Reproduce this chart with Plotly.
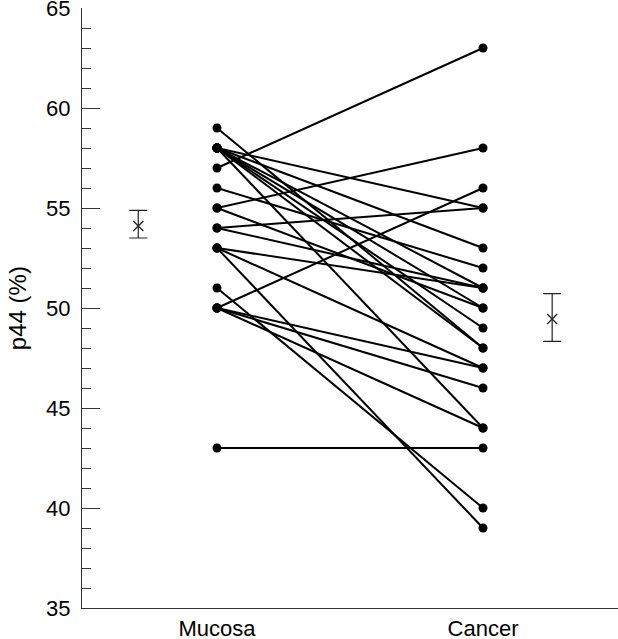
import plotly.graph_objects as go

# ---- data ----
groups = ["Mucosa", "Cancer"]
mucosa = [59, 58, 58, 58, 58, 58, 58, 58, 57, 56, 55, 55, 54, 54, 53, 53, 53, 51, 50, 50, 50, 50, 43]
cancer = [48, 55, 53, 51, 50, 49, 48, 44, 63, 52, 58, 50, 55, 51, 51, 47, 39, 40, 56, 47, 46, 44, 43]
means = [54.1, 49.45]
err_plus = [0.78, 1.27]
err_minus = [0.6, 1.12]
y_ticks = [35, 40, 45, 50, 55, 60, 65]

# ---- layout constants ----
X_POS = {"Mucosa": 1.0, "Cancer": 2.0}
MEAN_X = [0.704, 2.26]
FONT = "Liberation Sans, Arial, Helvetica, sans-serif"

xs, ys = [], []
for m, c in zip(mucosa, cancer):
    xs += [X_POS["Mucosa"], X_POS["Cancer"], None]
    ys += [m, c, None]

fig = go.Figure()
fig.add_trace(go.Scatter(
    x=xs, y=ys, mode="lines+markers",
    line=dict(color="black", width=2),
    marker=dict(color="black", size=9, symbol="circle"),
    hoverinfo="skip", showlegend=False,
))
fig.add_trace(go.Scatter(
    x=MEAN_X, y=means, mode="markers",
    marker=dict(symbol="x-thin", size=10, color="black",
                line=dict(color="#222", width=1.3)),
    error_y=dict(type="data", symmetric=False, array=err_plus,
                 arrayminus=err_minus, color="#222", thickness=1.2, width=9),
    showlegend=False,
))

fig.update_layout(
    width=618, height=639,
    margin=dict(l=82, r=0, t=8, b=31, autoexpand=False),
    paper_bgcolor="white", plot_bgcolor="white",
    font=dict(family=FONT, size=22, color="black"),
    annotations=[dict(
        text="p44 (%)", textangle=-90, showarrow=False,
        xref="paper", yref="paper", x=-0.121, y=0.5,
        xanchor="center", yanchor="middle",
        font=dict(family=FONT, size=24, color="black"),
    )],
)
fig.update_xaxes(
    range=[0.4925, 2.5075], automargin=False,
    tickmode="array", tickvals=[X_POS[g] for g in groups], ticktext=groups,
    ticks="", showgrid=False, zeroline=False,
    showline=True, linecolor="#333", linewidth=1,
    tickfont=dict(family=FONT, size=22),
    ticklabelstandoff=1,
    ticklabeloverflow="allow",
)
fig.update_yaxes(
    range=[35, 65], automargin=False,
    tickmode="array", tickvals=y_ticks, ticktext=[str(v) for v in y_ticks],
    ticks="inside", ticklen=18, tickwidth=1, tickcolor="#333",
    minor=dict(ticks="inside", ticklen=9, dtick=1, tickwidth=1, tickcolor="#333", showgrid=False),
    showgrid=False, zeroline=False,
    showline=True, linecolor="#333", linewidth=1,
    tickfont=dict(family=FONT, size=22),
    ticklabelstandoff=6,
    ticklabeloverflow="allow",
)

fig.write_html(
    "out.html",
    config={"displayModeBar": False},
    post_script="document.body.style.margin='0';document.body.style.overflow='hidden';",
)
